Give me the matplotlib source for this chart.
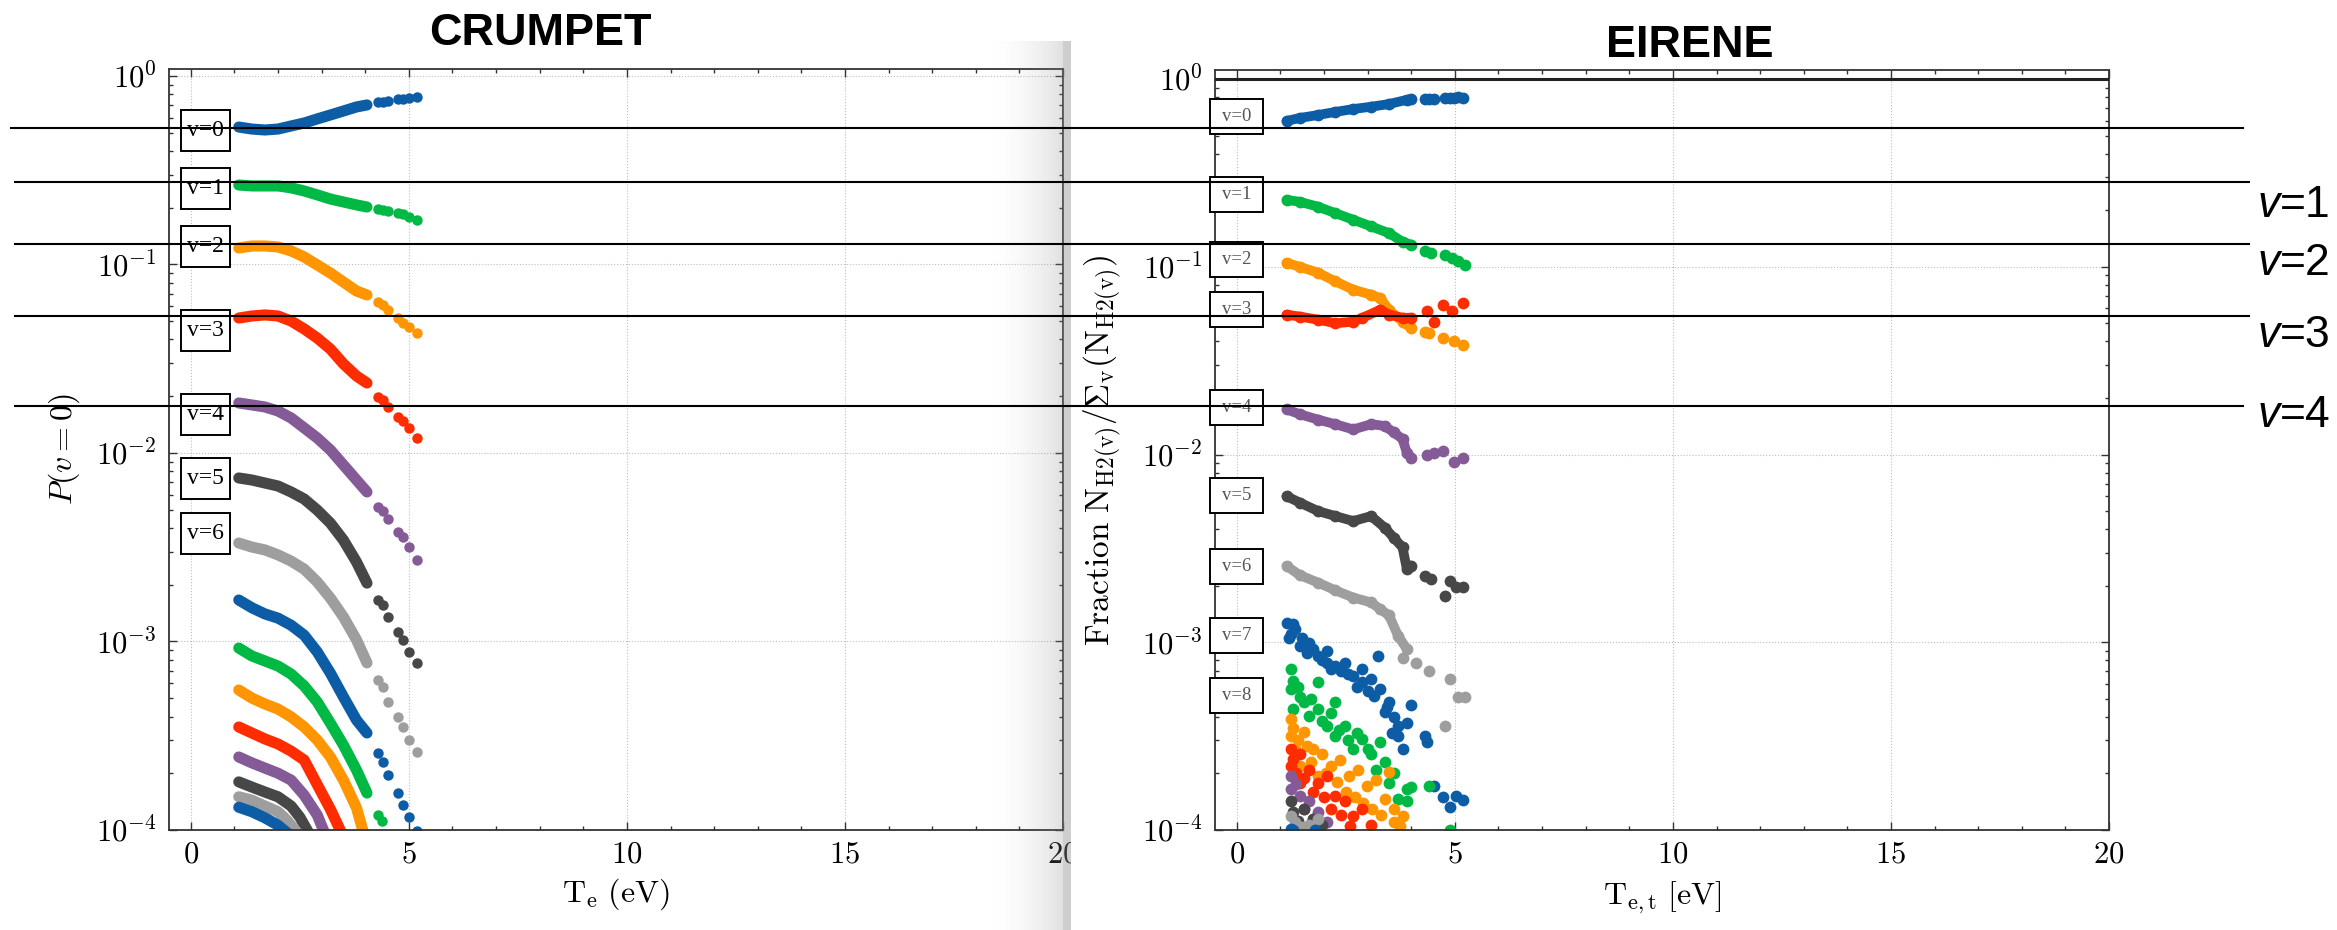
import numpy as np
import matplotlib
matplotlib.use("Agg")
import matplotlib.pyplot as plt
import matplotlib.transforms as mtransforms
from matplotlib.lines import Line2D
from matplotlib.patches import Rectangle
from matplotlib.ticker import MultipleLocator

# ---------------- CRUMPET (left panel) ----------------
crumpet_x = [1.1, 1.4, 1.7, 2.0, 2.3, 2.6, 2.9, 3.2, 3.5, 3.8, 4.04]
crumpet_y = [
    [0.536, 0.523, 0.517, 0.523, 0.543, 0.563, 0.592, 0.621, 0.652, 0.685, 0.702],
    [0.264, 0.261, 0.261, 0.261, 0.255, 0.2455, 0.234, 0.2226, 0.2146, 0.207, 0.2018],
    [0.1223, 0.1253, 0.1253, 0.1238, 0.118, 0.1096, 0.0994, 0.0901, 0.0807, 0.0723, 0.0689],
    [0.052, 0.0533, 0.054, 0.0533, 0.0501, 0.0455, 0.0407, 0.0356, 0.0297, 0.0256, 0.0235],
    [0.01842, 0.01798, 0.01754, 0.0167, 0.01534, 0.01358, 0.01201, 0.01038, 0.00864, 0.00719, 0.00621],
    [0.00737, 0.00719, 0.00693, 0.00668, 0.00621, 0.0057, 0.00498, 0.00425, 0.00345, 0.00264, 0.00204],
    [0.00333, 0.00317, 0.00306, 0.00288, 0.00267, 0.00242, 0.00207, 0.0017, 0.00135, 0.00102, 0.00077],
    [0.00166, 0.00151, 0.0014, 0.00133, 0.00122, 0.00108, 0.00088, 0.00068, 0.000508, 0.000383, 0.000327],
    [0.000923, 0.000838, 0.000788, 0.000741, 0.000672, 0.000581, 0.000478, 0.000369, 0.000282, 0.000208, 0.000157],
]
crumpet_tail_x = [4.3, 4.4, 4.52, 4.75, 4.87, 5.01, 5.18]
crumpet_tail_y = [
    [0.728, 0.728, 0.737, 0.755, 0.755, 0.764, 0.774],
    [0.197, 0.1946, 0.192, 0.1875, 0.185, 0.1786, 0.172],
    [0.0632, 0.061, 0.0574, 0.052, 0.049, 0.0466, 0.0433],
    [0.0198, 0.0191, 0.0175, 0.0155, 0.0148, 0.0136, 0.012],
    [0.00517, 0.00492, 0.00447, 0.00381, 0.00358, 0.00317, 0.00271],
    [0.00166, 0.00156, 0.00135, 0.00112, 0.00102, 0.00088, 0.00077],
    [0.000625, 0.000574, 0.000478, 0.000398, 0.000352, 0.0003, 0.000259],
    [0.000256, 0.00023, 0.000196, 0.000157, 0.000136, 0.000117, 0.0000985],
]
crumpet_v8_tail_x = [4.3, 4.38]
crumpet_v8_tail_y = [0.00012, 0.000111]

# higher levels v=9..14 (run off the bottom of the axis)
crumpet_low_x = [
    [1.1, 1.4, 1.7, 2.0, 2.3, 2.6, 2.9, 3.2, 3.5, 3.8, 3.97],
    [1.1, 1.4, 1.7, 2.0, 2.3, 2.6, 2.9, 3.2, 3.47],
    [1.1, 1.4, 1.7, 2.0, 2.3, 2.6, 2.9, 3.08],
    [1.1, 1.4, 1.7, 2.0, 2.3, 2.5, 2.72],
    [1.1, 1.4, 1.7, 2.0, 2.2, 2.47],
    [1.1, 1.4, 1.7, 2.0, 2.25],
]
crumpet_low_y = [
    [0.000553, 0.000501, 0.000466, 0.000438, 0.000398, 0.000352, 0.0003, 0.000244, 0.000184, 0.000131, 0.000095],
    [0.000352, 0.000327, 0.000304, 0.000286, 0.000262, 0.000235, 0.000174, 0.000129, 0.000095],
    [0.000244, 0.000227, 0.000213, 0.0002, 0.000184, 0.000153, 0.00012, 0.000095],
    [0.00018, 0.000169, 0.000159, 0.00015, 0.000134, 0.000117, 0.000095],
    [0.00015, 0.000144, 0.000134, 0.000125, 0.000113, 0.000095],
    [0.000132, 0.000125, 0.000116, 0.000106, 0.000095],
]

# ---------------- EIRENE (right panel) ----------------
eirene_band_x = [
    [1.14, 1.44, 1.86, 2.26, 2.67, 3.08, 3.49, 3.9, 4.0],
    [1.14, 1.44, 1.86, 2.26, 2.67, 3.08, 3.49, 3.8, 4.0],
    [1.14, 1.44, 1.86, 2.26, 2.67, 3.08, 3.29, 3.49, 3.8, 4.0],
    [1.14, 1.44, 1.86, 2.26, 2.67, 2.88, 3.29, 3.49, 3.8, 4.0],
    [1.14, 1.44, 1.86, 2.26, 2.67, 3.08, 3.39, 3.6, 3.8, 3.9, 4.0],
    [1.14, 1.44, 1.86, 2.26, 2.67, 3.08, 3.39, 3.6, 3.8, 3.9, 4.0],
    [1.14, 1.44, 1.86, 2.26, 2.67, 3.08, 3.29, 3.49, 3.7, 3.9],
]
eirene_band_y = [
    [0.598, 0.62, 0.643, 0.668, 0.692, 0.712, 0.736, 0.775, 0.78],
    [0.227, 0.222, 0.209, 0.193, 0.178, 0.164, 0.151, 0.136, 0.131],
    [0.105, 0.1, 0.093, 0.0836, 0.0755, 0.071, 0.068, 0.059, 0.051, 0.047],
    [0.0556, 0.0543, 0.0523, 0.05, 0.051, 0.0535, 0.059, 0.0556, 0.0535, 0.0535],
    [0.0174, 0.0164, 0.01535, 0.0145, 0.0136, 0.0145, 0.0142, 0.0131, 0.0121, 0.0102, 0.0096],
    [0.006, 0.00555, 0.005, 0.0047, 0.00442, 0.0047, 0.00408, 0.0036, 0.0032, 0.00245, 0.00256],
    [0.00255, 0.00228, 0.00208, 0.00189, 0.00173, 0.00163, 0.0015, 0.00139, 0.00108, 0.00092],
]
eirene_tail_x = [
    [4.31, 4.41, 4.52, 4.77, 4.88, 4.98, 5.08, 5.18],
    [4.31, 4.46, 4.77, 4.93, 5.08, 5.23],
    [4.31, 4.41, 4.72, 4.98, 5.18],
    [4.36, 4.52, 4.72, 4.93, 5.18],
    [4.36, 4.52, 4.72, 4.98, 5.18],
    [4.31, 4.46, 4.77, 4.88, 5.03, 5.18],
    [3.8, 4.1, 4.41, 4.77, 4.88, 5.08, 5.23],
]
eirene_tail_y = [
    [0.783, 0.786, 0.786, 0.793, 0.796, 0.796, 0.8, 0.796],
    [0.121, 0.118, 0.116, 0.111, 0.107, 0.1025],
    [0.0452, 0.0443, 0.0418, 0.04, 0.0385],
    [0.058, 0.051, 0.0628, 0.058, 0.0643],
    [0.01, 0.0102, 0.0104, 0.0091, 0.0096],
    [0.00225, 0.00216, 0.00176, 0.00212, 0.00196, 0.00196],
    [0.00082, 0.00078, 0.000704, 0.000359, 0.00064, 0.000508, 0.000508],
]
# scattered clouds v=7..14
eirene_cloud_x = [
    [1.14, 1.2, 1.24, 1.3, 1.34, 1.44, 1.5, 1.6, 1.65, 1.75, 1.86, 1.95, 2.06, 2.06, 2.15, 2.26, 2.4,
     2.47, 2.55, 2.67, 2.75, 2.88, 2.88, 3.0, 3.08, 3.15, 3.24, 3.29, 3.39, 3.45, 3.49, 3.55, 3.6,
     3.7, 3.7, 3.8, 3.9, 4.0, 4.31, 4.36, 4.52, 4.72, 4.88, 5.03, 5.18],
    [1.24, 1.24, 1.29, 1.3, 1.4, 1.44, 1.55, 1.65, 1.7, 1.86, 1.86, 1.95, 2.06, 2.15, 2.26, 2.26,
     2.35, 2.47, 2.55, 2.67, 2.75, 2.88, 3.0, 3.08, 3.2, 3.29, 3.39, 3.49, 3.6, 3.7, 3.9, 3.9, 4.0,
     4.41, 4.88],
    [1.24, 1.24, 1.3, 1.34, 1.4, 1.44, 1.55, 1.6, 1.7, 1.75, 1.86, 1.96, 2.05, 2.16, 2.3, 2.36, 2.5,
     2.57, 2.7, 2.78, 2.9, 2.98, 3.1, 3.19, 3.3, 3.39, 3.49, 3.6, 3.6, 3.75, 3.8],
    [1.24, 1.24, 1.3, 1.35, 1.44, 1.44, 1.55, 1.65, 1.75, 1.86, 2.0, 2.06, 2.15, 2.26, 2.4, 2.47,
     2.6, 2.67, 2.88, 3.08],
    [1.24, 1.24, 1.35, 1.44, 1.55, 1.65, 1.75, 1.86, 2.06],
    [1.24, 1.29, 1.4, 1.55, 1.75, 1.96],
    [1.24, 1.34, 1.5, 1.65, 1.86],
    [1.24, 1.3, 1.8],
]
eirene_cloud_y = [
    [0.00127, 0.00105, 0.0011, 0.00125, 0.00117, 0.00096, 0.00105, 0.00088, 0.00099, 0.00092,
     0.000846, 0.0008, 0.00078, 0.000893, 0.00072, 0.000748, 0.0007, 0.00078, 0.00068, 0.000662,
     0.00058, 0.000716, 0.000615, 0.00055, 0.00064, 0.00052, 0.000846, 0.000562, 0.000423, 0.00045,
     0.000478, 0.00033, 0.0004, 0.00036, 0.000318, 0.00027, 0.000373, 0.000464, 0.000318, 0.000295,
     0.000172, 0.000149, 0.000132, 0.000152, 0.000144],
    [0.000718, 0.000562, 0.00044, 0.00062, 0.00058, 0.000514, 0.00048, 0.000405, 0.0005, 0.00044,
     0.000615, 0.00038, 0.00036, 0.00042, 0.000318, 0.000478, 0.00034, 0.00036, 0.0003, 0.00027,
     0.00033, 0.000305, 0.00027, 0.000253, 0.00021, 0.000295, 0.000229, 0.000178, 0.0002, 0.000146,
     0.000165, 0.000142, 0.000169, 0.000172, 0.0001],
    [0.000389, 0.000318, 0.00035, 0.00027, 0.0003, 0.00022, 0.000334, 0.00028, 0.00023, 0.00027,
     0.000193, 0.000253, 0.0002, 0.00022, 0.00018, 0.000236, 0.00016, 0.000193, 0.00015, 0.000208,
     0.00014, 0.000172, 0.00013, 0.000184, 0.00012, 0.000146, 0.000203, 0.000129, 0.00011, 0.000105,
     0.000119],
    [0.00027, 0.00022, 0.00024, 0.0002, 0.000253, 0.000178, 0.00019, 0.000208, 0.00016, 0.000178,
     0.00015, 0.000193, 0.00013, 0.000152, 0.00012, 0.000142, 0.000105, 0.000119, 0.000129, 0.000106],
    [0.000193, 0.000165, 0.000175, 0.000152, 0.00013, 0.000142, 0.000115, 0.000124, 0.00011],
    [0.000142, 0.000124, 0.000112, 0.000129, 0.000115, 0.000106],
    [0.000119, 0.00011, 0.000104, 0.000106, 0.000115],
    [0.000101, 0.0001, 0.0001],
]

colors = ['#0C5DA5', '#00B945', '#FF9500', '#FF2C00', '#845B97', '#474747', '#9e9e9e']
crumpet_box_labels = ['v=0', 'v=1', 'v=2', 'v=3', 'v=4', 'v=5', 'v=6']
eirene_box_labels = ['v=0', 'v=1', 'v=2', 'v=3', 'v=4', 'v=5', 'v=6', 'v=7', 'v=8']
side_labels = ['1', '2', '3', '4']

# ---------------- layout (pixels of the 2337x930 canvas) ----------------
W, H = 2337, 930
crumpet_box_y = [0.511, 0.252, 0.124, 0.0444, 0.0161, 0.00728, 0.00372]
eirene_box_y = [0.628, 0.244, 0.109, 0.059, 0.0178, 0.00605, 0.00254, 0.00108, 0.000523]
overlay_lines = [(128, 11, 2243), (182, 15, 2249), (244, 15, 2249), (316, 15, 2249), (406, 15, 2243)]
side_baselines = [217, 275, 347, 427]

plt.rcParams.update({
    'font.family': 'serif',
    'font.serif': ['cmr10'],
    'mathtext.fontset': 'cm',
    'axes.formatter.use_mathtext': True,
    'axes.unicode_minus': False,
})


def fx(x):
    return x / W


def fy(y):
    return 1 - y / H


fig = plt.figure(figsize=(W / 100, H / 100), dpi=100)
ax1 = fig.add_axes([fx(169), fy(830), (1063 - 169) / W, (830 - 69) / H], zorder=1)
ax2 = fig.add_axes([fx(1215), fy(830), (2109 - 1215) / W, (830 - 70) / H], zorder=3)


def style_axes(ax, top):
    ax.set_yscale('log')
    ax.set_xlim(-0.5, 20)
    ax.set_ylim(1e-4, top)
    ax.xaxis.set_major_locator(MultipleLocator(5))
    ax.xaxis.set_minor_locator(MultipleLocator(1))
    ax.tick_params(which='both', direction='in', top=True, right=True, color='#333333', width=1)
    ax.tick_params(which='major', length=6, labelsize=22)
    ax.tick_params(which='minor', length=3)
    ax.tick_params(axis='x', which='major', pad=8)
    ax.tick_params(axis='y', which='major', pad=9)
    ax.grid(True, which='major', ls=':', color='#bdbdbd', lw=0.8)
    for s in ax.spines.values():
        s.set_color('#333333')
        s.set_linewidth(1.3)


def vbox(ax, x, y, text, w, h, fs, color):
    tr = fig.dpi_scale_trans + mtransforms.ScaledTranslation(x, y, ax.transData)
    ax.add_patch(Rectangle((-w / 200, -h / 200), w / 100, h / 100, transform=tr,
                           facecolor='white', edgecolor='black', lw=1.4, zorder=5, clip_on=False))
    ax.text(x, y, text, ha='center', va='center', fontsize=fs, color=color, zorder=6,
            family='Liberation Serif')


style_axes(ax1, 1.089)
style_axes(ax2, 1.117)
ax1.set_facecolor('none')

# left panel curves
for i, ys in enumerate(crumpet_y):
    ax1.plot(crumpet_x, ys, color=colors[i % 7], lw=8, solid_capstyle='round', solid_joinstyle='round')
for i, ys in enumerate(crumpet_tail_y):
    ax1.plot(crumpet_tail_x, ys, 'o', color=colors[i % 7], ms=7.5, mec='none')
ax1.plot(crumpet_v8_tail_x, crumpet_v8_tail_y, 'o', color=colors[8 % 7], ms=7.5, mec='none')
for j, (xs, ys) in enumerate(zip(crumpet_low_x, crumpet_low_y)):
    ax1.plot(xs, ys, color=colors[(9 + j) % 7], lw=8, solid_capstyle='round', solid_joinstyle='round')

# right panel points
ax2.axhline(1.0, color='#222222', lw=2.2, zorder=4)
for i, (xs, ys) in enumerate(zip(eirene_band_x, eirene_band_y)):
    c = colors[i % 7]
    ax2.plot(xs, ys, '-o', color=c, lw=7, ms=8.5, mec='none', solid_capstyle='round')
    ax2.plot(eirene_tail_x[i], eirene_tail_y[i], 'o', color=c, ms=8.5, mec='none')
for j, (xs, ys) in enumerate(zip(eirene_cloud_x, eirene_cloud_y)):
    ax2.plot(xs, ys, 'o', color=colors[(7 + j) % 7], ms=8.5, mec='none', ls='none')

for lab, yb in zip(crumpet_box_labels, crumpet_box_y):
    vbox(ax1, 0.34, yb, lab, 49, 41, 17, 'black')
for lab, yb in zip(eirene_box_labels, eirene_box_y):
    vbox(ax2, 0.0, yb, lab, 53, 35, 13.5, '#555555')

ax1.set_xlabel(r'$\mathrm{T_e\ (eV)}$', fontsize=23)
ax1.set_ylabel(r'$P(v=0)$', fontsize=23)
ax1.xaxis.set_label_coords(0.5, -0.061)
ax1.yaxis.set_label_coords(-0.097, 0.5)
ax2.set_xlabel(r'$\mathrm{T_{e,t}\ [eV]}$', fontsize=23)
ax2.set_ylabel(r'$\mathrm{Fraction\ N_{H2(v)}/\Sigma_{v}(N_{H2(v)})}$', fontsize=24)
ax2.xaxis.set_label_coords(0.5, -0.065)
ax2.yaxis.set_label_coords(-0.102, 0.5)

# window shadow between the two screenshots, and the white of the right window
x_start, x_spine, x_edge, x_end = 983, 1063, 1071, 1150
y_top = 41
cols = np.arange(x_start, x_end)
alpha = np.where(cols < x_spine, 0.27 * ((cols - x_start) / (x_spine - x_start)) ** 2,
                 np.where(cols < x_edge, 0.42, 1.0))
shade = np.where(cols < x_edge, 140, 255)
img = np.zeros((H - y_top, len(cols), 4), dtype=np.uint8)
img[..., 0] = shade
img[..., 1] = shade
img[..., 2] = shade
img[..., 3] = (alpha * 255).astype(np.uint8)
fig.figimage(img, xo=x_start, yo=0, origin='upper', zorder=2)

# titles
fig.text(fx(540), fy(45), 'CRUMPET', ha='center', va='baseline', fontsize=32.4,
         fontweight='bold', family='Liberation Sans')
fig.text(fx(1690), fy(57), 'EIRENE', ha='center', va='baseline', fontsize=32.4,
         fontweight='bold', family='Liberation Sans')

# overlay guide lines and their labels
for y, x0, x1 in overlay_lines:
    fig.add_artist(Line2D([fx(x0), fx(x1)], [fy(y), fy(y)], transform=fig.transFigure,
                          color='black', lw=1.5, zorder=10))
for lab, yb in zip(side_labels, side_baselines):
    fig.text(fx(2258), fy(yb), 'v', style='italic', fontsize=32, family='Liberation Sans',
             ha='left', va='baseline', zorder=11)
    fig.text(fx(2280), fy(yb), '=' + lab, fontsize=32, family='Liberation Sans',
             ha='left', va='baseline', zorder=11)

fig.savefig('out.png', dpi=100)
